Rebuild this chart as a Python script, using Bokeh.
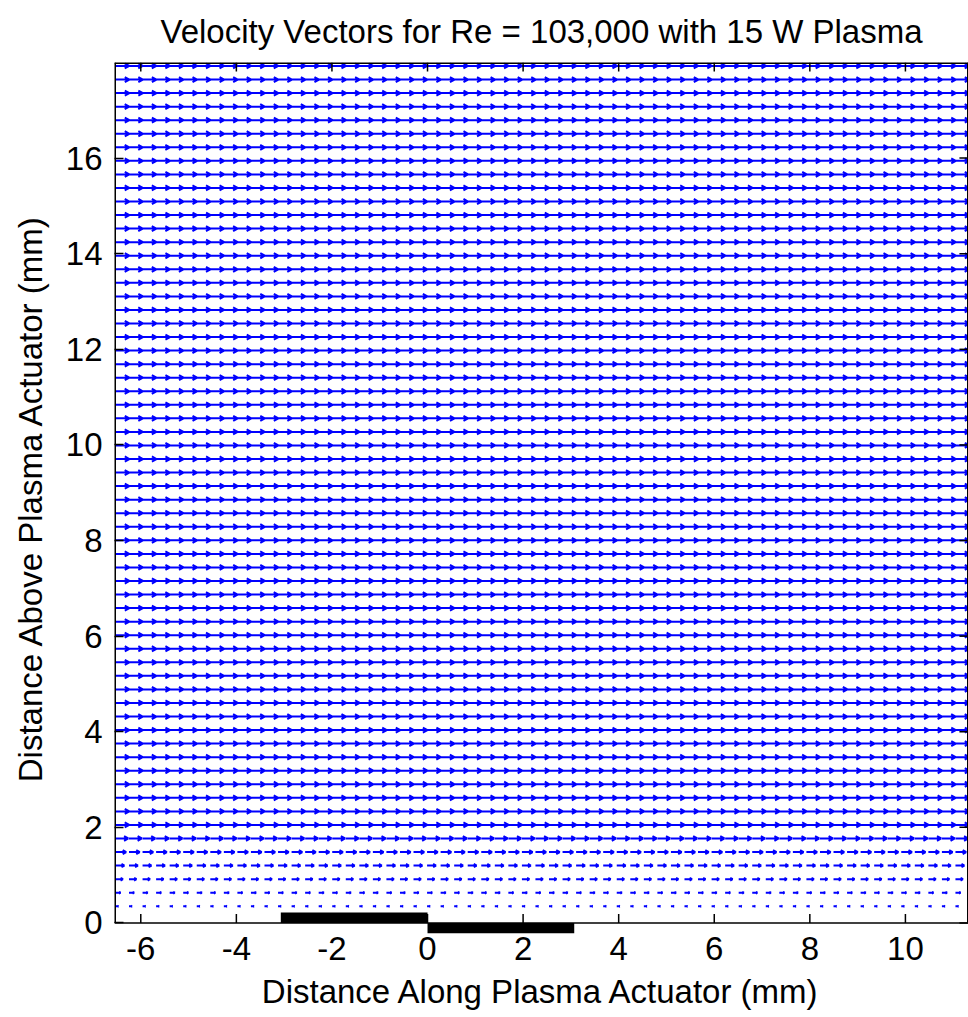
import numpy as np
from bokeh.plotting import figure
from bokeh.models import FixedTicker
from bokeh.embed import file_html
from bokeh.resources import INLINE

# ---------------- data ----------------
title_text = "Velocity Vectors for Re = 103,000 with 15 W Plasma"
x_label = "Distance Along Plasma Actuator (mm)"
y_label = "Distance Above Plasma Actuator (mm)"

x_ticks = [-6, -4, -2, 0, 2, 4, 6, 8, 10]
y_ticks = [0, 2, 4, 6, 8, 10, 12, 14, 16]
x_lim = [-6.55, 11.32]
y_lim = [0.0, 18.0]

# PIV vector grid (mm)
x_first = -6.53
y_first = 0.35
grid_step = 0.2835
n_cols = 64

# streamwise velocity (m/s) of each grid row, bottom row first
u_rows = [2.3, 4.0, 5.8, 6.9, 8.3, 9.9, 10.6, 10.7, 10.6, 10.7,
          10.7, 10.6, 10.7, 10.7, 10.6, 10.7, 10.7, 10.6, 10.7, 10.7,
          10.6, 10.7, 10.7, 10.6, 10.7, 10.7, 10.6, 10.7, 10.7, 10.6,
          10.7, 10.7, 10.6, 10.7, 10.7, 10.6, 10.7, 10.7, 10.6, 10.7,
          10.7, 10.6, 10.7, 10.7, 10.6, 10.7, 10.7, 10.6, 10.7, 10.7,
          10.6, 10.7, 10.7, 10.6, 10.7, 10.7, 10.6, 10.7, 10.7, 10.6,
          10.7, 10.7, 10.6]

# electrodes (mm): exposed (upper) and covered (lower)
elec_left = [-3.07, 0.0]
elec_right = [0.0, 3.07]
elec_bottom = [0.0, -0.22]
elec_top = [0.22, 0.0]

# ---------------- quiver construction ----------------
quiver_scale = grid_step / 10.4   # mm per (m/s)
head_alpha = 0.33
head_beta = 0.55

xs_rows, ys_rows = [], []
for r, u in enumerate(u_rows):
    y = y_first + r * grid_step
    L = u * quiver_scale
    xs, ys = [], []
    for c in range(n_cols):
        x = x_first + c * grid_step
        tip = x + L
        hx = tip - head_alpha * L
        hy = head_alpha * head_beta * L
        xs += [x, tip, hx, np.nan, tip, hx, np.nan]
        ys += [y, y, y + hy, np.nan, y, y - hy, np.nan]
    xs_rows.append(xs)
    ys_rows.append(ys)

FONT = "Liberation Sans"
TXT = "black"

p = figure(width=968, height=1017,
           x_range=(x_lim[0], x_lim[1]), y_range=(min(elec_bottom), y_lim[1]),
           min_border_left=114, min_border_right=0, min_border_top=62,
           min_border_bottom=84, output_backend="svg", toolbar_location=None,
           title=title_text)

p.multi_line(xs=xs_rows, ys=ys_rows, line_color="#0000ff", line_width=2.0)

# electrodes
p.quad(left=elec_left, right=elec_right, bottom=elec_bottom, top=elec_top,
       fill_color="black", line_color=None)

# axes box (left, top, right, bottom at y=0) and inner ticks
tick_len = 0.19
p.segment(x0=[x_lim[0], x_lim[0], x_lim[1], x_lim[0]],
          y0=[y_lim[0], y_lim[1], y_lim[0], y_lim[0]],
          x1=[x_lim[0], x_lim[1], x_lim[1], x_lim[1]],
          y1=[y_lim[1], y_lim[1], y_lim[1], y_lim[0]],
          line_color="black", line_width=[3, 3, 3, 1.6])
p.segment(x0=x_ticks + x_ticks, x1=x_ticks + x_ticks,
          y0=[y_lim[1]] * len(x_ticks) + [y_lim[0]] * len(x_ticks),
          y1=[y_lim[1] - tick_len] * len(x_ticks) + [y_lim[0] + tick_len] * len(x_ticks),
          line_color="black", line_width=1.5)
p.segment(x0=[x_lim[1]] * len(y_ticks), y0=y_ticks,
          x1=[x_lim[1] - tick_len] * len(y_ticks), y1=y_ticks,
          line_color="black", line_width=1.5)

p.grid.visible = False
p.background_fill_color = "white"
p.border_fill_color = "white"
p.outline_line_color = None

p.title.align = "center"
p.title.vertical_align = "top"
p.title.text_font = FONT
p.title.text_font_size = "33px"
p.title.text_font_style = "normal"
p.title.text_color = TXT
p.title.text_line_height = 0.5
p.title.standoff = 22

for ax, ticks in ((p.xaxis[0], x_ticks), (p.yaxis[0], y_ticks)):
    ax.ticker = FixedTicker(ticks=ticks)
    ax.major_label_overrides = {t: str(t) for t in ticks}
    ax.major_tick_out = 0
    ax.minor_tick_line_color = None
    ax.major_tick_line_width = 1.5
    ax.major_label_text_font = FONT
    ax.major_label_text_font_size = "33px"
    ax.major_label_text_color = TXT
    ax.axis_label_text_font = FONT
    ax.axis_label_text_font_size = "33px"
    ax.axis_label_text_font_style = "normal"
    ax.axis_label_text_color = TXT
    ax.axis_line_color = None

p.xaxis[0].major_tick_in = 0
p.yaxis[0].major_tick_in = 9
p.xaxis[0].axis_label = x_label
p.yaxis[0].axis_label = y_label
p.xaxis[0].major_label_standoff = 3
p.yaxis[0].major_label_standoff = 12
p.xaxis[0].axis_label_standoff = 10
p.yaxis[0].axis_label_standoff = 14

open("out.html", "w").write(file_html(p, INLINE))
